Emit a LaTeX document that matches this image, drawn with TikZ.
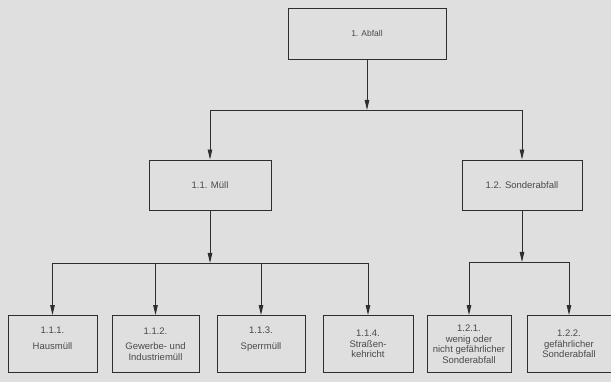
\documentclass[tikz,border=0pt]{standalone}
\usepackage{fontspec}
\setmainfont{Liberation Sans}
\usetikzlibrary{arrows.meta,positioning,calc}
\definecolor{PaperGray}{HTML}{DFDFDF}
\definecolor{InkGray}{HTML}{2E2E2E}
\definecolor{TextGray}{HTML}{4A4A4A}

\begin{document}
\begin{tikzpicture}[
  x=1pt,y=-1pt,
  box/.style={draw=InkGray,fill=PaperGray,line width=0.9pt,align=center,inner sep=2pt,
    text=TextGray,font=\fontsize{9.5}{10.5}\selectfont},
  leaf/.style={box,minimum height=57pt},
  arrow/.style={-{Triangle[length=10pt,width=4.5pt]},line width=0.9pt,draw=InkGray},
  link/.style={line width=0.9pt,draw=InkGray}
]
  \fill[PaperGray] (0,0) rectangle (611,382);
  \useasboundingbox (0,0) rectangle (611,382);

  % top level
  \node[box,minimum width=158pt,minimum height=51pt,font=\fontsize{8.5}{10}\selectfont] (abfall) at (367,33.5) {1. Abfall};

  % second level
  \node[box,minimum width=122pt,minimum height=50pt] (muell) at (210,185) {1.1. Müll};
  \node[box,minimum width=120pt,minimum height=50pt] (sonder) at (522,185) {1.2. Sonderabfall};

  % third level
  \node[leaf,minimum width=89pt,text depth=12pt] (haus) at (52.5,344) {1.1.1.\\[5pt]Hausmüll};
  \node[leaf,minimum width=87pt] (gewerbe) at (155.5,344) {1.1.2.\\[5pt]Gewerbe- und\\Industriemüll};
  \node[leaf,minimum width=88pt,text depth=12pt] (sperr) at (261,344) {1.1.3.\\[5pt]Sperrmüll};
  \node[leaf,minimum width=90pt] (strasse) at (368,344) {1.1.4.\\Straßen-\\kehricht};
  \node[leaf,minimum width=84pt] (wenig) at (469,344) {1.2.1.\\wenig oder\\nicht gefährlicher\\Sonderabfall};
  \node[leaf,minimum width=84pt] (gefahr) at (569,344) {1.2.2.\\gefährlicher\\Sonderabfall};

  % connectors
  \coordinate (split1) at (367,110);
  \draw[arrow] (abfall) -- (split1);
  \draw[link] (muell |- split1) -- (sonder |- split1);
  \draw[arrow] (muell |- split1) -- (muell);
  \draw[arrow] (sonder |- split1) -- (sonder);

  \coordinate (split2) at (210,263);
  \draw[arrow] (muell) -- (split2);
  \draw[link] (haus |- split2) -- (strasse |- split2);
  \foreach \leafname in {haus,gewerbe,sperr,strasse}
    \draw[arrow] (\leafname |- split2) -- (\leafname);

  \coordinate (split3) at (522,262);
  \draw[arrow] (sonder) -- (split3);
  \draw[link] (wenig |- split3) -- (gefahr |- split3);
  \foreach \leafname in {wenig,gefahr}
    \draw[arrow] (\leafname |- split3) -- (\leafname);
\end{tikzpicture}
\end{document}
